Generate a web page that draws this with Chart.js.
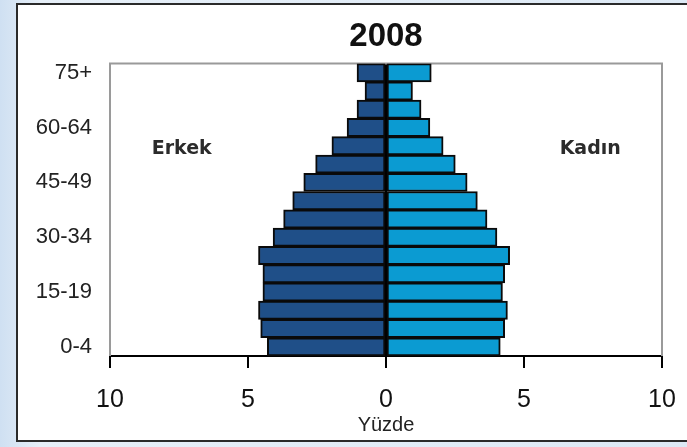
<!DOCTYPE html>
<html>
<head>
<meta charset="utf-8">
<script src="https://cdn.jsdelivr.net/npm/chart.js@4"></script>
<style>
  html, body { margin: 0; padding: 0; }
  body { width: 687px; height: 447px; position: relative; overflow: hidden;
         background: linear-gradient(90deg, #cfe0f2 0px, #e6eff8 40px, #dde9f5 100%); }
  .frame { position: absolute; left: 16px; top: 3px; width: 760px; height: 435px;
           border: 2px solid #2a2a2a; background: #fff; }
  canvas { position: absolute; left: 0; top: 0; }
</style>
</head>
<body>
<div class="frame"></div>
<canvas id="pyramid" width="687" height="447"></canvas>
<script>
const ageGroups = ['0-4', '5-9', '10-14', '15-19', '20-24', '25-29', '30-34', '35-39',
  '40-44', '45-49', '50-54', '55-59', '60-64', '65-69', '70-74', '75+'];

// yüzde, erkek (sol) ve kadın (sağ)
const erkek = [4.30, 4.54, 4.62, 4.46, 4.46, 4.62, 4.09, 3.71, 3.38, 2.98, 2.55, 1.96, 1.41, 1.05, 0.76, 1.05];
const kadin = [4.14, 4.30, 4.40, 4.22, 4.30, 4.48, 4.02, 3.66, 3.31, 2.94, 2.51, 2.07, 1.59, 1.27, 0.96, 1.64];

const xTicks = [-10, -5, 0, 5, 10];

const sideLabels = [
  { text: 'Erkek', x: -7.4, row: '55-59' },
  { text: 'Kadın', x: 7.4, row: '55-59' }
];

const frameAndLabels = {
  id: 'frameAndLabels',
  beforeDatasetsDraw(chart) {
    const { ctx, chartArea: a } = chart;
    ctx.save();
    ctx.strokeStyle = '#9a9a9a';
    ctx.lineWidth = 2;
    ctx.beginPath();
    ctx.moveTo(a.left, a.bottom);
    ctx.lineTo(a.left, a.top);
    ctx.lineTo(a.right, a.top);
    ctx.lineTo(a.right, a.bottom);
    ctx.stroke();
    ctx.restore();
  },
  afterDraw(chart) {
    const { ctx, scales } = chart;
    ctx.save();
    ctx.font = 'bold 19px "DejaVu Sans"';
    ctx.fillStyle = '#2b2b2b';
    ctx.textAlign = 'center';
    ctx.textBaseline = 'middle';
    sideLabels.forEach(l => {
      ctx.fillText(l.text, scales.x.getPixelForValue(l.x), scales.y.getPixelForValue(l.row) + 3);
    });
    ctx.restore();
  }
};

new Chart(document.getElementById('pyramid').getContext('2d'), {
  type: 'bar',
  data: {
    labels: ageGroups,
    datasets: [
      {
        label: 'Erkek',
        data: erkek.map(v => -v),
        backgroundColor: '#1f4f88',
        borderColor: '#0a0a0a',
        borderWidth: 2,
        borderSkipped: false
      },
      {
        label: 'Kadın',
        data: kadin,
        backgroundColor: '#0b9bd2',
        borderColor: '#0a0a0a',
        borderWidth: 2,
        borderSkipped: false
      }
    ]
  },
  options: {
    indexAxis: 'y',
    responsive: false,
    animation: false,
    barPercentage: 1,
    categoryPercentage: 1,
    layout: { padding: { left: 0, right: 25, top: 0, bottom: 0 } },
    plugins: {
      legend: { display: false },
      tooltip: { enabled: false },
      title: {
        display: true,
        fullSize: false,
        text: '2008',
        color: '#111',
        font: { family: 'Liberation Sans', size: 33, weight: 'bold' },
        padding: { top: 17, bottom: 7 }
      }
    },
    scales: {
      x: {
        stacked: true,
        min: -10,
        max: 10,
        afterBuildTicks: s => { s.ticks = xTicks.map(v => ({ value: v })); },
        afterFit: s => { s.height = 91; s.paddingLeft = 0; s.paddingRight = 0; },
        ticks: {
          color: '#111',
          padding: 17,
          font: { family: 'Liberation Sans', size: 25 },
          callback: v => Math.abs(v)
        },
        grid: {
          color: c => (c.tick && c.tick.value === 0 ? '#000' : 'rgba(0,0,0,0)'),
          lineWidth: 2,
          tickColor: '#000',
          tickWidth: 2,
          tickLength: 12
        },
        border: { display: true, color: '#000', width: 2 },
        title: {
          display: true,
          text: 'Yüzde',
          color: '#222',
          font: { family: 'Liberation Sans', size: 20 },
          padding: { top: 0, bottom: 10 }
        }
      },
      y: {
        stacked: true,
        reverse: true,
        afterFit: s => { s.width = 110; s.paddingTop = 0; s.paddingBottom = 0; },
        grid: { display: false },
        border: { display: false },
        ticks: {
          autoSkip: false,
          padding: 10,
          color: '#222',
          font: { family: 'Liberation Sans', size: 22 },
          callback: (v, i) => (i % 3 === 0 ? ageGroups[i] : '')
        }
      }
    }
  },
  plugins: [frameAndLabels]
});
</script>
</body>
</html>
